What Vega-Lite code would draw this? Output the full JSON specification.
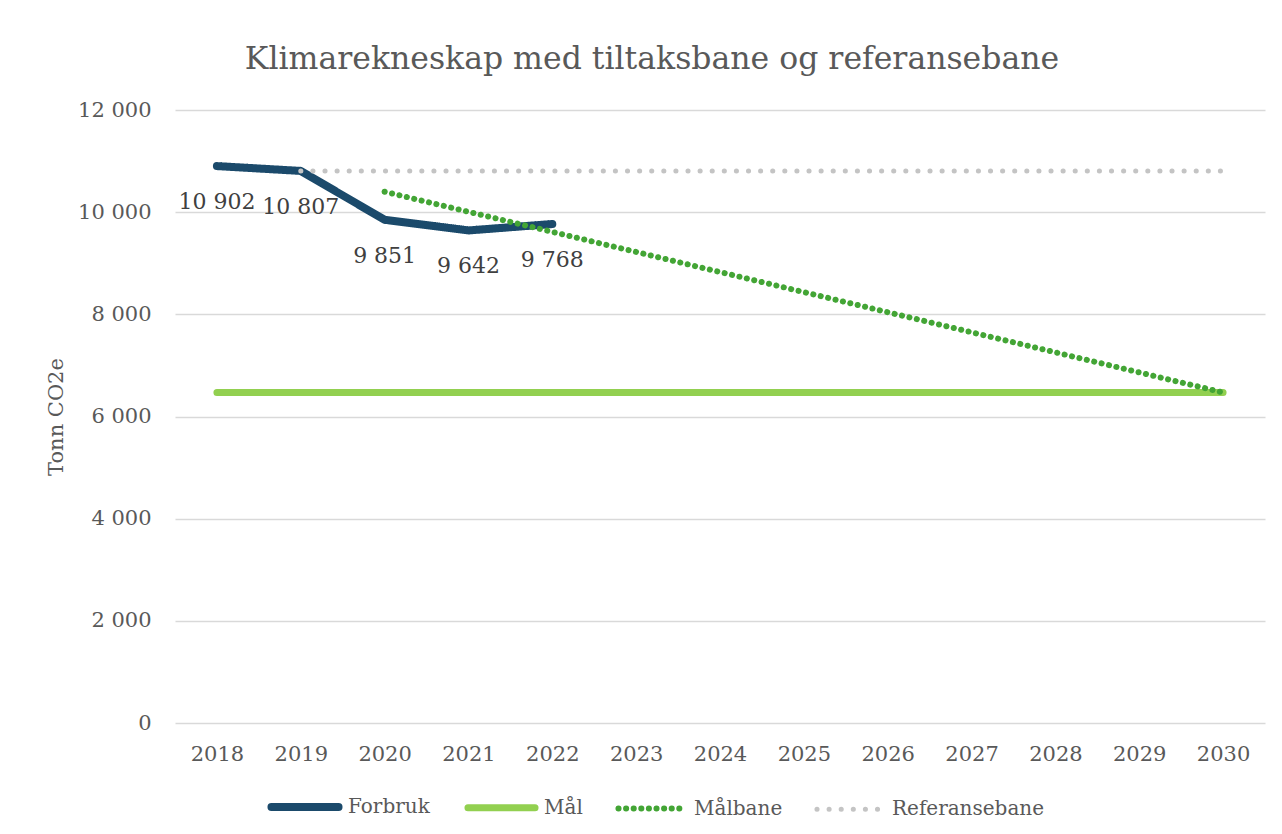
{
  "$schema": "https://vega.github.io/schema/vega-lite/v6.json",
  "width": 1090,
  "height": 613,
  "autosize": {"type": "none"},
  "padding": {"left": 175, "top": 110, "right": 17, "bottom": 111},
  "background": "white",
  "title": {
    "text": "Klimarekneskap med tiltaksbane og referansebane",
    "font": "DejaVu Serif",
    "fontSize": 31.5,
    "fontWeight": "normal",
    "color": "#595959",
    "anchor": "middle",
    "frame": "group",
    "dx": -68,
    "offset": 24
  },
  "config": {
    "locale": {"number": {"decimal": ",", "thousands": " ", "grouping": [3], "currency": ["", " kr"]}},
    "view": {"stroke": null},
    "font": "DejaVu Serif"
  },
  "data": {
    "values": [
      {"year": "2018", "serie": "Forbruk", "value": 10902},
      {"year": "2019", "serie": "Forbruk", "value": 10807},
      {"year": "2020", "serie": "Forbruk", "value": 9851},
      {"year": "2021", "serie": "Forbruk", "value": 9642},
      {"year": "2022", "serie": "Forbruk", "value": 9768},
      {"year": "2018", "serie": "Mål", "value": 6470},
      {"year": "2019", "serie": "Mål", "value": 6470},
      {"year": "2020", "serie": "Mål", "value": 6470},
      {"year": "2021", "serie": "Mål", "value": 6470},
      {"year": "2022", "serie": "Mål", "value": 6470},
      {"year": "2023", "serie": "Mål", "value": 6470},
      {"year": "2024", "serie": "Mål", "value": 6470},
      {"year": "2025", "serie": "Mål", "value": 6470},
      {"year": "2026", "serie": "Mål", "value": 6470},
      {"year": "2027", "serie": "Mål", "value": 6470},
      {"year": "2028", "serie": "Mål", "value": 6470},
      {"year": "2029", "serie": "Mål", "value": 6470},
      {"year": "2030", "serie": "Mål", "value": 6470},
      {"year": "2020", "serie": "Målbane", "value": 10400},
      {"year": "2030", "serie": "Målbane", "value": 6470},
      {"year": "2019", "serie": "Referansebane", "value": 10807},
      {"year": "2020", "serie": "Referansebane", "value": 10807},
      {"year": "2021", "serie": "Referansebane", "value": 10807},
      {"year": "2022", "serie": "Referansebane", "value": 10807},
      {"year": "2023", "serie": "Referansebane", "value": 10807},
      {"year": "2024", "serie": "Referansebane", "value": 10807},
      {"year": "2025", "serie": "Referansebane", "value": 10807},
      {"year": "2026", "serie": "Referansebane", "value": 10807},
      {"year": "2027", "serie": "Referansebane", "value": 10807},
      {"year": "2028", "serie": "Referansebane", "value": 10807},
      {"year": "2029", "serie": "Referansebane", "value": 10807},
      {"year": "2030", "serie": "Referansebane", "value": 10807}
    ]
  },
  "encoding": {
    "x": {
      "field": "year",
      "type": "ordinal",
      "scale": {"type": "point", "padding": 0.5},
      "axis": {
        "title": null,
        "labelAngle": 0,
        "labelFont": "DejaVu Serif",
        "labelFontSize": 21,
        "labelColor": "#595959",
        "labelPadding": 20,
        "domain": false,
        "ticks": false,
        "grid": false
      }
    },
    "y": {
      "field": "value",
      "type": "quantitative",
      "scale": {"domain": [0, 12000], "nice": false},
      "axis": {
        "title": "Tonn CO2e",
        "titleFont": "DejaVu Serif",
        "titleFontSize": 21,
        "titleFontWeight": "normal",
        "titleColor": "#595959",
        "titlePadding": 11,
        "values": [0, 2000, 4000, 6000, 8000, 10000, 12000],
        "format": ",d",
        "labelFont": "DejaVu Serif",
        "labelFontSize": 21,
        "labelColor": "#595959",
        "labelPadding": 24,
        "domain": false,
        "ticks": false,
        "gridColor": "#D9D9D9",
        "gridWidth": 1.5
      }
    }
  },
  "layer": [
    {
      "mark": {"type": "line", "strokeCap": "round", "strokeJoin": "round"},
      "encoding": {
        "color": {
          "field": "serie",
          "type": "nominal",
          "scale": {
            "domain": ["Forbruk", "Mål", "Målbane", "Referansebane"],
            "range": ["#1B4A6B", "#92D050", "#43A535", "#C4C4C4"]
          },
          "legend": {
            "title": null,
            "orient": "none",
            "legendX": 92,
            "legendY": 659,
            "direction": "horizontal",
            "gridAlign": "each",
            "symbolType": "stroke",
            "symbolSize": 4500,
            "labelFont": "DejaVu Serif",
            "labelFontSize": 20,
            "labelColor": "#595959",
            "labelOffset": 5,
            "columnPadding": 23,
            "encode": {"symbols": {"update": {"strokeCap": {"value": "round"}}}}
          }
        },
        "strokeDash": {
          "field": "serie",
          "type": "nominal",
          "scale": {
            "domain": ["Forbruk", "Mål", "Målbane", "Referansebane"],
            "range": [[1, 0], [1, 0], [0.1, 7.5], [0.1, 12]]
          }
        },
        "strokeWidth": {
          "field": "serie",
          "type": "nominal",
          "scale": {
            "domain": ["Forbruk", "Mål", "Målbane", "Referansebane"],
            "range": [8, 5, 3, 6.5]
          }
        }
      }
    },
    {
      "transform": [{"filter": "datum.serie === 'Forbruk'"}],
      "mark": {"type": "text", "dy": 36, "font": "DejaVu Serif", "fontSize": 22, "color": "#404040"},
      "encoding": {
        "text": {"field": "value", "type": "quantitative", "format": ",d"}
      }
    }
  ]
}
